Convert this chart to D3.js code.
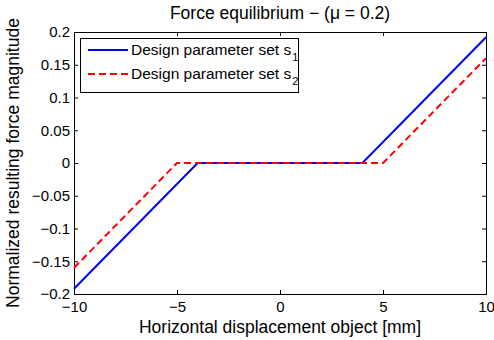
<!DOCTYPE html>
<meta charset="utf-8">
<style>
body { margin: 0; padding: 0; background: #fff; }
text { font-family: "Liberation Sans", Arial, sans-serif; fill: #000; }
</style>
<body>
<script src="https://d3js.org/d3.v7.min.js"></script>
<script>

// displacement breakpoints and force values for both parameter sets
var dispS1 = [-10, -4, 4, 10];
var forceS1 = [-0.192, 0, 0, 0.192];
var dispS2 = [-10, -5, 5, 10];
var forceS2 = [-0.16, 0, 0, 0.16];
var xTicks = [-10, -5, 0, 5, 10];
var yTicks = [-0.2, -0.15, -0.1, -0.05, 0, 0.05, 0.1, 0.15, 0.2];
var seriesNames = ["Design parameter set s", "Design parameter set s"];
var seriesSubs = ["1", "2"];

var width = 494, height = 340;
var mLeft = 74, mRight = 486, mTop = 32, mBottom = 294;

var svg = d3.select("body").append("svg")
    .attr("width", width)
    .attr("height", height);

var x = d3.scaleLinear().domain([-10, 10]).range([mLeft, mRight]);
var y = d3.scaleLinear().domain([-0.2, 0.2]).range([mBottom, mTop]);

function fmt(v) {
  var s = d3.format("")(+v.toFixed(2));
  return s.replace("-", "\u2212");
}

// ticks point inward, mirrored on top and right
svg.append("g")
    .attr("transform", "translate(0," + mBottom + ")")
    .call(d3.axisBottom(x).tickValues(xTicks).tickSize(-4).tickPadding(7).tickFormat(fmt));
svg.append("g")
    .attr("transform", "translate(0," + mTop + ")")
    .call(d3.axisTop(x).tickValues(xTicks).tickSize(-4).tickFormat(""));
svg.append("g")
    .attr("transform", "translate(" + mLeft + ",0)")
    .call(d3.axisLeft(y).tickValues(yTicks).tickSize(-4).tickPadding(4).tickFormat(fmt));
svg.append("g")
    .attr("transform", "translate(" + mRight + ",0)")
    .call(d3.axisRight(y).tickValues(yTicks).tickSize(-4).tickFormat(""));

svg.selectAll(".domain").attr("stroke", "#000").attr("stroke-width", 1);
svg.selectAll(".tick line").attr("stroke", "#000");
svg.selectAll(".tick text")
    .style("font-size", "15px")
    .style("font-family", "'Liberation Sans', Arial, sans-serif")
    .attr("fill", "#000");

var line = d3.line().x(function(d) { return x(d[0]); }).y(function(d) { return y(d[1]); });

svg.append("path")
    .datum(d3.zip(dispS1, forceS1))
    .attr("d", line)
    .attr("fill", "none")
    .attr("stroke", "#0000ff")
    .attr("stroke-width", 2);

svg.append("path")
    .datum(d3.zip(dispS2, forceS2))
    .attr("d", line)
    .attr("fill", "none")
    .attr("stroke", "#ff0000")
    .attr("stroke-width", 2)
    .attr("stroke-dasharray", "7,4");

// legend
var legend = svg.append("g");
legend.append("rect")
    .attr("x", 80.5).attr("y", 38.5)
    .attr("width", 218).attr("height", 54)
    .attr("fill", "#fff").attr("stroke", "#000");

var styles = [{ c: "#0000ff", d: null }, { c: "#ff0000", d: "7,4" }];
seriesNames.forEach(function(name, i) {
  var ly = 50 + i * 24;
  legend.append("line")
      .attr("x1", 88).attr("x2", 128)
      .attr("y1", ly).attr("y2", ly)
      .attr("stroke", styles[i].c)
      .attr("stroke-width", 2)
      .attr("stroke-dasharray", styles[i].d);
  var t = legend.append("text")
      .attr("x", 131).attr("y", ly + 5)
      .style("font-size", "15.5px")
      .text(name);
  t.append("tspan")
      .attr("dx", 1)
      .attr("dy", 6)
      .style("font-size", "11px")
      .text(seriesSubs[i]);
});

svg.append("text")
    .attr("x", (mLeft + mRight) / 2).attr("y", 19)
    .attr("text-anchor", "middle")
    .style("font-size", "17.5px")
    .text("Force equilibrium \u2212 (\u03bc = 0.2)");

svg.append("text")
    .attr("x", (mLeft + mRight) / 2).attr("y", 333)
    .attr("text-anchor", "middle")
    .style("font-size", "17.5px")
    .text("Horizontal displacement object [mm]");

svg.append("text")
    .attr("transform", "translate(19," + ((mTop + mBottom) / 2) + ") rotate(-90)")
    .attr("text-anchor", "middle")
    .style("font-size", "17.5px")
    .text("Normalized resulting force magnitude");

</script>
